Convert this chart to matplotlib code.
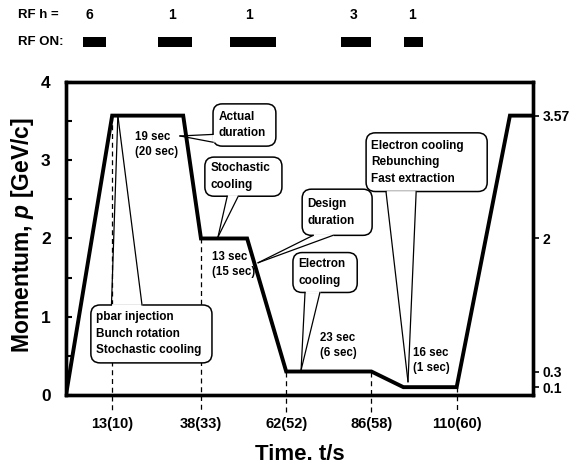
import matplotlib
matplotlib.use("Agg")
import matplotlib.pyplot as plt
import numpy as np
from matplotlib.patches import FancyBboxPatch, Polygon
from matplotlib.ticker import MultipleLocator

plt.rcParams['font.family'] = ['Liberation Sans', 'DejaVu Sans']
plt.rcParams['font.weight'] = 'bold'
plt.rcParams['mathtext.fontset'] = 'custom'
plt.rcParams['mathtext.it'] = 'Liberation Sans:italic:bold'
plt.rcParams['mathtext.rm'] = 'Liberation Sans:bold'

# momentum cycle (time in s, p in GeV/c)
t = [0, 13, 33, 38, 51, 62, 86, 95, 110, 125, 131.5]
p = [0, 3.57, 3.57, 2, 2, 0.3, 0.3, 0.1, 0.1, 3.57, 3.57]

tick_t = [13, 38, 62, 86, 110]
tick_lbl = ["13(10)", "38(33)", "62(52)", "86(58)", "110(60)"]

right_ticks = [3.57, 2, 0.3, 0.1]
right_lbl = ["3.57", "2", "0.3", "0.1"]

# RF harmonic and RF on windows
rf_h = ["6", "1", "1", "3", "1"]
rf_h_t = [6.5, 29.9, 51.5, 81.1, 97.5]
rf_start = [4.8, 25.9, 46.2, 77.5, 95.2]
rf_width = [6.5, 9.6, 13.0, 8.4, 5.4]

# duration notes: actual (design)
dur_txt = ["19 sec\n(20 sec)", "13 sec\n(15 sec)", "23 sec\n(6 sec)", "16 sec\n(1 sec)"]
dur_xy = [(19.4, 3.20), (41.1, 1.67), (71.5, 0.63), (97.7, 0.44)]

# callouts: text, box (x0, x1, y0, y1), base points, tip
callouts = [
    ("Actual\nduration", (41.4, 59.1, 3.18, 3.72), [(41.4, 3.33), (41.4, 3.23)], (32.1, 3.31)),
    ("Stochastic\ncooling", (39.1, 60.8, 2.54, 3.04), [(45.4, 2.54), (48.5, 2.54)], (42.8, 2.02)),
    ("Design\nduration", (66.5, 86.2, 2.04, 2.63), [(69.6, 2.04), (75.2, 2.04)], (54.1, 1.69)),
    ("Electron\ncooling", (63.9, 82.0, 1.31, 1.82), [(67.3, 1.31), (71.5, 1.31)], (66.2, 0.32)),
    ("Electron cooling\nRebunching\nFast extraction", (84.5, 118.6, 2.60, 3.35),
     [(90.1, 2.60), (98.6, 2.60)], (96.3, 0.17)),
    ("pbar injection\nBunch rotation\nStochastic cooling", (7.0, 41.1, 0.41, 1.15),
     [(12.8, 1.15), (21.4, 1.15)], (14.6, 3.57)),
]

fig = plt.figure(figsize=(5.7, 4.66), dpi=100)
ax = fig.add_axes([0.1158, 0.1524, 0.8193, 0.6717])
xlim = (0, 131.5)
ax.set_xlim(xlim)
ax.set_ylim(0, 4)

ax.plot(t, p, color='black', lw=2.8, zorder=4.55, solid_joinstyle='miter')

for tt in tick_t:
    top = np.interp(tt, t, p)
    ax.plot([tt, tt], [top, -0.23], color='black', lw=0.9, ls=(0, (4, 3)),
            clip_on=False, zorder=4.6)

for s, (x, y) in zip(dur_txt, dur_xy):
    ax.text(x, y, s, fontsize=8.3, fontweight='bold', ha='left', va='center',
            linespacing=1.35, zorder=8)

asp = (4 / 313) / (131.5 / 467)
for s, (x0, x1, y0, y1), base, tip in callouts:
    box = FancyBboxPatch((x0, y0), x1 - x0, y1 - y0,
                         boxstyle="round,pad=0,rounding_size=2.6",
                         mutation_aspect=asp, facecolor='white', edgecolor='black',
                         lw=1.1, zorder=5)
    ax.add_patch(box)
    ax.add_patch(Polygon([base[0], base[1], tip], closed=True, facecolor='white',
                         edgecolor='none', zorder=4.5))
    ax.plot([base[0][0], base[1][0]], [base[0][1], base[1][1]], color='white',
            lw=2.0, zorder=5.1, solid_capstyle='butt')
    for b in base:
        ax.plot([b[0], tip[0]], [b[1], tip[1]], color='black', lw=0.9, zorder=5.2)
    ax.text(x0 + 1.5, (y0 + y1) / 2, s, fontsize=8.5, fontweight='bold',
            ha='left', va='center', linespacing=1.5, zorder=7)

for sp in ax.spines.values():
    sp.set_linewidth(2.4)

ax.set_xticks(tick_t)
ax.set_xticklabels(tick_lbl)
ax.tick_params(axis='x', length=0, pad=16, labelsize=10.5)
ax.yaxis.set_major_locator(MultipleLocator(1))
ax.yaxis.set_minor_locator(MultipleLocator(0.5))
ax.tick_params(axis='y', which='both', direction='in', length=4, width=1.5,
               labelsize=12.5, pad=11)

ax2 = ax.twinx()
ax2.set_ylim(0, 4)
ax2.set_yticks(right_ticks)
ax2.set_yticklabels(right_lbl)
ax2.tick_params(axis='y', direction='out', length=4, width=1.2, labelsize=10, pad=3)
for sp in ax2.spines.values():
    sp.set_linewidth(2.4)

ax.set_xlabel("Time. t/s", fontsize=16, fontweight='bold', va='center')
ax.xaxis.set_label_coords(0.5, -0.19)
ax.set_ylabel(r"Momentum, $\mathit{p}$ [GeV/c]", fontsize=16.5, fontweight='bold', va='center')
ax.yaxis.set_label_coords(-0.094, 0.51)

# RF strip on top
ax_rf = fig.add_axes([0.1158, 1 - 55 / 466, 0.8193, 55 / 466])
ax_rf.set_xlim(xlim)
ax_rf.set_ylim(55, 0)
ax_rf.axis('off')
ax_rf.barh(42, rf_width, left=rf_start, height=10, color='black')
for s, x in zip(rf_h, rf_h_t):
    ax_rf.text(x, 15, s, fontsize=10, fontweight='bold', ha='center', va='center')
fig.text(18 / 570, 1 - 15 / 466, "RF h =", fontsize=9.5, fontweight='bold', va='center')
fig.text(18 / 570, 1 - 42 / 466, "RF ON:", fontsize=9.5, fontweight='bold', va='center')

fig.savefig("out.png", dpi=100)
